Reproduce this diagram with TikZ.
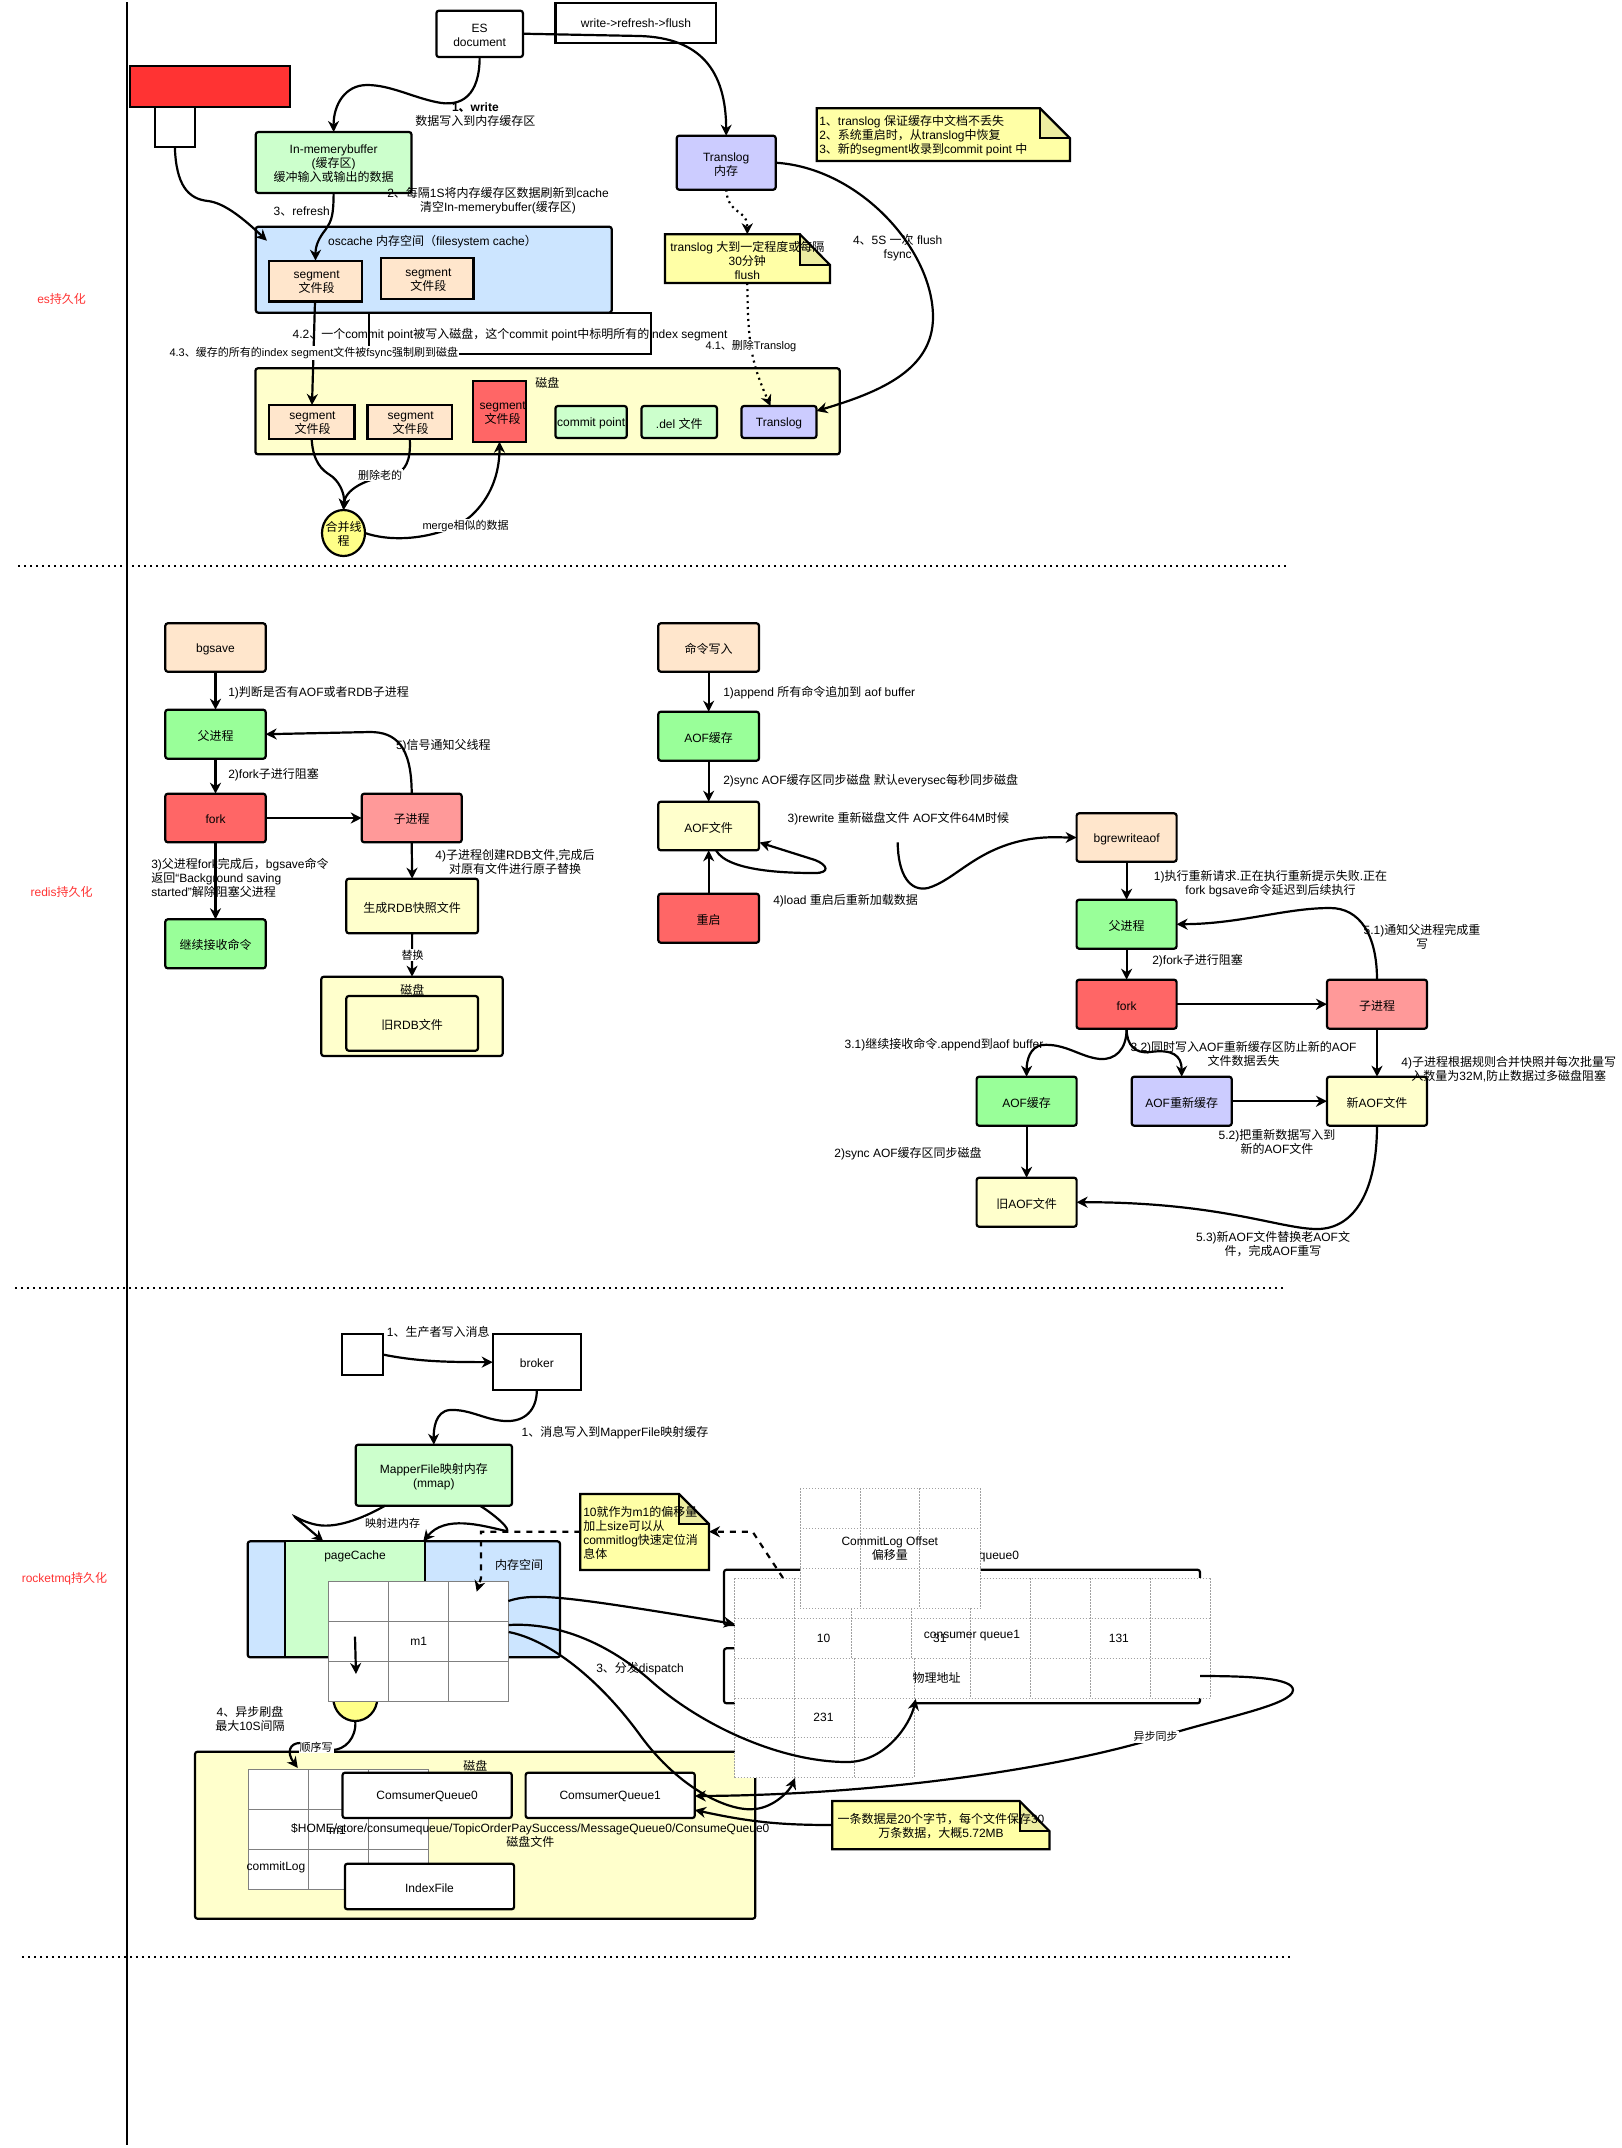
\documentclass[tikz,border=0pt]{standalone}
\usepackage{fontspec}
\usetikzlibrary{arrows.meta,shapes.geometric}
\setmainfont{Liberation Sans}
\newfontfamily\cjkfont{Noto Sans CJK SC}
\newXeTeXintercharclass\zhclass
\newcount\zhc
\zhc="3000 \loop\ifnum\zhc<"3040 \XeTeXcharclass\zhc=\zhclass \advance\zhc 1 \repeat
\zhc="4E00 \loop\ifnum\zhc<"A000 \XeTeXcharclass\zhc=\zhclass \advance\zhc 1 \repeat
\zhc="FF00 \loop\ifnum\zhc<"FFF0 \XeTeXcharclass\zhc=\zhclass \advance\zhc 1 \repeat
\XeTeXinterchartoks 0 \zhclass={\cjkfont}
\XeTeXinterchartoks 4095 \zhclass={\cjkfont}
\XeTeXinterchartoks \zhclass 0={\rmfamily}
\XeTeXinterchartoks \zhclass 4095={\rmfamily}
\XeTeXinterchartokenstate=1
\definecolor{cpeach}{HTML}{FFE6CC}
\definecolor{cgreen}{HTML}{99FF99}
\definecolor{clgreen}{HTML}{CCFFCC}
\definecolor{cred}{HTML}{FF6666}
\definecolor{cpink}{HTML}{FF9999}
\definecolor{cyellow}{HTML}{FFFFCC}
\definecolor{cblue}{HTML}{CCE5FF}
\definecolor{cviolet}{HTML}{CCCCFF}
\definecolor{cnote}{HTML}{FFFFA6}
\definecolor{cfold}{HTML}{EDEDA0}
\definecolor{cball}{HTML}{FFFF88}
\definecolor{cbright}{HTML}{FF3333}
\definecolor{cgrid}{HTML}{808080}
\definecolor{cdot}{HTML}{A0A0A0}
\tikzset{
  box/.style={draw=black,line width=2.2pt,rounded corners=2.5pt,inner sep=0pt,outer sep=0pt},
  sq/.style={box,rounded corners=0pt},
  lab/.style={inner sep=0pt,outer sep=0pt,align=center,font=\fontsize{12}{14}\selectfont},
  labl/.style={lab,align=left,anchor=west},
  edgelab/.style={inner sep=1pt,outer sep=0pt,fill=white,align=center,font=\fontsize{11}{13}\selectfont},
  conn/.style={line width=2.2pt,-{Stealth[length=11pt,width=11pt,inset=3.5pt]}},
  plain/.style={line width=2.2pt},
  dotconn/.style={conn,dash pattern=on 2pt off 4pt},
  dashconn/.style={conn,dash pattern=on 6pt off 6pt},
  sep/.style={line width=2pt,dash pattern=on 2pt off 4pt},
  gridln/.style={draw=cgrid,line width=1pt},
  dotln/.style={draw=cdot,line width=1pt,dash pattern=on 1.4pt off 1.6pt},
  ball/.style={draw,line width=2.2pt,ellipse,fill=cball,inner sep=0pt,outer sep=0pt},
}
\newcommand{\bx}[7]{%
  \pgfmathsetmacro\cxx{(#2+#4)/2}\pgfmathsetmacro\cyy{(#3+#5)/2}%
  \node[#6,minimum width={(#4-#2)*1pt},minimum height={(#5-#3)*1pt}] (#1) at (\cxx,\cyy) {};%
  \def\bxtext{#7}\ifx\bxtext\empty\else
  \pgfmathsetmacro\cyz{\cyy+1.5}\node[lab] (#1-t) at (\cxx,\cyz) {#7};\fi}
\newcommand{\notebox}[8]{% name x1 y1 x2 y2 foldx foldy
  \fill[cnote] (#2,#3) -- (#6,#3) -- (#4,#7) -- (#4,#5) -- (#2,#5) -- cycle;
  \fill[cfold] (#6,#3) -- (#4,#7) -- (#6,#7) -- cycle;
  \draw[line width=2.2pt,line join=miter] (#2,#3) -- (#6,#3) -- (#4,#7) -- (#4,#5) -- (#2,#5) -- cycle;
  \draw[line width=2.2pt] (#6,#3) -- (#6,#7) -- (#4,#7);
  \coordinate (#1-l) at (#2,#8);\coordinate (#1-r) at (#4,#8);}
\begin{document}
\begin{tikzpicture}[x=1pt,y=-1pt]
\useasboundingbox (0,0) rectangle (1622,2148);
% global lines
\coordinate (vt) at (126.5,2);\coordinate (vb) at (126.5,2145);
\draw[line width=2pt] (vt) -- (vb);
\coordinate (s1a) at (18,566);\coordinate (s1b) at (1287,566);
\coordinate (s2a) at (15,1288);\coordinate (s2b) at (1284,1288);
\coordinate (s3a) at (22,1957);\coordinate (s3b) at (1291,1957);
\draw[sep] (s1a)--(s1b); \draw[sep] (s2a)--(s2b); \draw[sep] (s3a)--(s3b);
\node[lab,text=cbright] (lbes) at (61.6,298.5) {es持久化};
\node[lab,text=cbright] (lbredis) at (61.6,891.5) {redis持久化};
\node[lab,text=cbright] (lbrocket) at (64.5,1579) {rocketmq持久化};

%%%%%% ES
\bx{redbar}{130}{66.3}{290}{106.7}{sq,fill=cbright}{}
\bx{whitebox}{154.7}{106.7}{195}{146.7}{sq,fill=white}{}
\bx{wrf}{555.4}{2.7}{715.7}{42.7}{sq}{}
\node[lab] (wrft) at (636,23.5) {write->refresh->flush};
\bx{es}{436.4}{10.7}{522.9}{57}{box,fill=white}{ES\\document}
\bx{mem}{255.8}{132}{411.5}{193}{box,fill=clgreen}{In-memerybuffer\\(缓存区)\\缓冲输入或输出的数据}
\bx{tlog}{676.7}{135.7}{775.7}{189.7}{box,fill=cviolet}{Translog\\内存}
\bx{oscache}{255.8}{226.7}{611.7}{312.7}{box,fill=cblue}{}
\node[lab] (ost) at (432.5,241.5) {oscache 内存空间（filesystem cache）};
\bx{cseg1}{268.8}{260.7}{361.8}{301.5}{sq,fill=cpeach}{}
\node[lab] (cseg1t) at (316.6,282) {segment\\文件段};
\bx{cseg2}{381.3}{258.3}{473.5}{299}{sq,fill=cpeach}{}
\node[lab] (cseg2t) at (428.4,280) {segment\\文件段};
\bx{rect42}{368.7}{313}{651}{354.3}{sq}{}
\bx{disk}{255.4}{368.3}{839.7}{454.3}{box,fill=cyellow}{}
\node[lab] (diskt) at (547.3,383) {磁盘};
\bx{dseg1}{268.8}{405}{354.5}{439}{sq,fill=cpeach}{}
\node[lab] (dseg1t) at (312.5,423) {segment\\文件段};
\bx{dseg2}{367.4}{405}{452.2}{439}{sq,fill=cpeach}{}
\node[lab] (dseg2t) at (410.7,423) {segment\\文件段};
\bx{rseg}{472.8}{381}{525.9}{441.7}{sq,fill=cred}{}
\node[lab] (rsegt) at (502.7,413) {segment\\文件段};
\bx{cpt}{555.4}{406}{626.8}{438}{box,fill=clgreen}{commit point}
\bx{del}{641.5}{406}{717}{438}{box,fill=clgreen}{.del 文件}
\bx{dtlog}{741.5}{406}{816.5}{438}{box,fill=cviolet}{Translog}
\node[ball,minimum width=43pt,minimum height=46pt] (merge) at (343.5,533) {};
\node[lab] (merget) at (343.5,534) {合并线\\程};
\notebox{n1}{816.7}{108.3}{1070}{161}{1040}{138.3}{135}
\node[labl] (n1t) at (819.3,136) {1、translog 保证缓存中文档不丢失\\2、系统重启时，从translog中恢复\\3、新的segment收录到commit point 中};
\notebox{n2}{665}{234.3}{830}{283}{800}{265}{260}
\node[lab] (n2t) at (747.3,260) {translog 大到一定程度或每隔\\30分钟\\flush};
% connectors
\coordinate (wdst) at (266.9,240.7);
\draw[conn] (whitebox.south) .. controls (176,185) and (188,199) .. (208,201) .. controls (225,203) and (245,220) .. (wdst);
\draw[conn] (es.south) .. controls (479.7,95) and (462,108) .. (436,102) .. controls (412,97) and (390,85) .. (367,85) .. controls (345,85) and (333.4,105) .. (mem.north);
\coordinate (esr) at (522.9,33.7);
\draw[conn] (esr) -- (640,36) .. controls (700,38) and (726,70) .. (tlog.north);
\coordinate (cseg1a) at (315.5,260.7);
\draw[conn] (mem.south) .. controls (333.4,215) and (332,220) .. (326,229) .. controls (319,238) and (315.5,245) .. (cseg1a);
\coordinate (n2top) at (747.3,234.3);\coordinate (n2bot) at (747.3,283);
\draw[dotconn] (tlog.south) .. controls (727,203) and (733,208) .. (740,213) .. controls (746,217) and (747.3,222) .. (n2top);
\coordinate (dtlogt) at (770.5,406);
\draw[dotconn] (n2bot) .. controls (748,340) and (750,360) .. (dtlogt);
\coordinate (dtlogr) at (816.5,411);
\draw[conn] (tlog.east) .. controls (860,168) and (933,250) .. (933,317) .. controls (933,370) and (880,392) .. (dtlogr);
\coordinate (cs1b) at (315,301.5);\coordinate (ds1t) at (312,405);
\draw[conn] (cs1b) -- (ds1t);
\draw[conn] (dseg1.south) .. controls (313,462) and (322,470) .. (330,475) .. controls (338,480) and (345,492) .. (merge.north);
\draw[conn] (dseg2.south) .. controls (411,462) and (405,470) .. (395,475) .. controls (365,478) and (345,490) .. (merge.north);
\coordinate (rsegb) at (499.5,441.7);
\draw[conn] (merge.east) .. controls (400,545) and (450,535) .. (472,515) .. controls (490,498) and (499.5,475) .. (rsegb);
\node[lab] (t1a) at (475.4,115) {\textbf{1、write}\\数据写入到内存缓存区};
\node[lab] (t2a) at (498,201) {2、每隔1S将内存缓存区数据刷新到cache\\清空In-memerybuffer(缓存区)};
\node[lab] (t3a) at (301.7,211) {3、refresh};
\node[lab] (t4a) at (897.7,248) {4、5S 一次 flush\\fsync};
\node[lab] (t42) at (510,335) {4.2、一个commit point被写入磁盘，这个commit point中标明所有的index segment};
\node[edgelab] (t41) at (751,346) {4.1、删除Translog};
\node[edgelab] (t43) at (313.8,353) {4.3、缓存的所有的index segment文件被fsync强制刷到磁盘};
\node[edgelab] (tdel) at (380,475) {删除老的};
\node[edgelab] (tmrg) at (465.6,525.7) {merge相似的数据};

%%%%%% RDB
\bx{bg}{165.3}{623.3}{265.7}{671.7}{box,fill=cpeach}{bgsave}
\bx{fa}{165.3}{709.7}{265.7}{758.7}{box,fill=cgreen}{父进程}
\bx{fo}{165.3}{793.7}{265.7}{842.3}{box,fill=cred}{fork}
\bx{go}{165.3}{919.3}{265.7}{968.3}{box,fill=cgreen}{继续接收命令}
\bx{ch}{361.7}{793.7}{461.7}{842.3}{box,fill=cpink}{子进程}
\bx{gen}{346.3}{878.7}{478}{933.3}{box,fill=cyellow}{生成RDB快照文件}
\bx{rdisk}{321.3}{976.7}{502.7}{1056}{box,fill=cyellow}{}
\node[lab] (rdiskt) at (412.3,990) {磁盘};
\bx{old}{346.3}{996}{478}{1050.7}{box,fill=cyellow}{旧RDB文件}
\draw[conn] (bg)--(fa); \draw[conn] (fa)--(fo); \draw[conn] (fo)--(go); \draw[conn] (fo)--(ch);
\draw[conn] (ch.north) .. controls (411.7,745) and (395,732) .. (370,732) -- (fa.east);
\draw[conn] (ch.south) -- (gen.north);
\draw[conn] (gen.south) -- (rdisk.north);
\node[labl] (r1) at (228.3,692.7) {1)判断是否有AOF或者RDB子进程};
\node[labl] (r2) at (228.3,775) {2)fork子进行阻塞};
\node[labl] (r3) at (151.3,878) {3)父进程fork完成后，bgsave命令\\返回“Background saving\\started”解除阻塞父进程};
\node[labl] (r5) at (396,746) {5)信号通知父线程};
\node[lab] (r4) at (515,862) {4)子进程创建RDB文件,完成后\\对原有文件进行原子替换};
\node[edgelab] (rr) at (412.7,955) {替换};

%%%%%% AOF left
\bx{cmd}{658.3}{623.3}{759}{671.7}{box,fill=cpeach}{命令写入}
\bx{ab}{658.3}{711.7}{759}{760.7}{box,fill=cgreen}{AOF缓存}
\bx{af}{658.3}{801.7}{759}{850.3}{box,fill=cyellow}{AOF文件}
\bx{rs}{658.3}{893.7}{759}{942.7}{box,fill=cred}{重启}
\draw[conn] (cmd)--(ab); \draw[conn] (ab)--(af); \draw[conn] (rs)--(af);
\coordinate (afb) at (716,850.3);\coordinate (afr) at (759.5,842.5);
\draw[conn] (afb) .. controls (728,872) and (790,873) .. (815,873) .. controls (830,873) and (828,865) .. (815,860) -- (afr);
\coordinate (rwstart) at (897.7,842.3);
\node[labl] (a1) at (723.3,692.7) {1)append 所有命令追加到 aof buffer};
\node[labl] (a2) at (723.3,781) {2)sync AOF缓存区同步磁盘 默认everysec每秒同步磁盘};
\node[labl] (a3) at (787.7,819) {3)rewrite 重新磁盘文件 AOF文件64M时候};
\node[labl] (a4) at (773.3,901) {4)load 重启后重新加载数据};

%%%%%% AOF right
\bx{bw}{1076.6}{813.3}{1176.6}{861.7}{box,fill=cpeach}{bgrewriteaof}
\bx{fa2}{1076.6}{899.7}{1176.6}{948.7}{box,fill=cgreen}{父进程}
\bx{fo2}{1076.6}{979.7}{1176.6}{1028.7}{box,fill=cred}{fork}
\bx{ch2}{1327}{979.7}{1427}{1028.7}{box,fill=cpink}{子进程}
\bx{ab2}{976.6}{1076.7}{1076.6}{1125.7}{box,fill=cgreen}{AOF缓存}
\bx{rb2}{1131.7}{1076.7}{1231.7}{1125.7}{box,fill=cviolet}{AOF重新缓存}
\bx{nf2}{1327}{1076.7}{1427}{1125.7}{box,fill=cyellow}{新AOF文件}
\bx{of2}{976.6}{1177.7}{1076.6}{1226.7}{box,fill=cyellow}{旧AOF文件}
\draw[conn] (rwstart) .. controls (898,875) and (910,892) .. (928,888) .. controls (955,880) and (975,850) .. (1025,840) .. controls (1045,836) and (1060,837.5) .. (bw.west);
\draw[conn] (bw)--(fa2); \draw[conn] (fa2)--(fo2); \draw[conn] (fo2)--(ch2);
\draw[conn] (ch2)--(nf2); \draw[conn] (rb2)--(nf2); \draw[conn] (ab2)--(of2);
\draw[conn] (ch2.north) .. controls (1377,935) and (1360,908) .. (1330,908) .. controls (1285,908) and (1240,924) .. (fa2.east);
\draw[conn] (fo2.south) .. controls (1126.6,1050) and (1115,1060) .. (1100,1059) .. controls (1080,1057) and (1065,1043) .. (1042,1045) .. controls (1030,1047) and (1026.6,1060) .. (ab2.north);
\draw[conn] (fo2.south) .. controls (1126.6,1045) and (1135,1054) .. (1150,1052) .. controls (1172,1049) and (1181.7,1055) .. (rb2.north);
\draw[conn] (nf2.south) .. controls (1377,1190) and (1355,1229) .. (1317,1229) .. controls (1280,1229) and (1220,1202) .. (of2.east);
\node[lab] (b1) at (1270.5,884) {1)执行重新请求.正在执行重新提示失败.正在\\fork bgsave命令延迟到后续执行};
\node[lab] (b2) at (1197.6,961) {2)fork子进行阻塞};
\node[lab] (b3) at (1422,937) {5.1)通知父进程完成重\\写};
\node[lab] (b4) at (944,1045) {3.1)继续接收命令.append到aof buffer};
\node[lab] (b5) at (1243.5,1054) {3.2)同时写入AOF重新缓存区防止新的AOF\\文件数据丢失};
\node[lab] (b6) at (1508.8,1069.5) {4)子进程根据规则合并快照并每次批量写\\入数量为32M,防止数据过多磁盘阻塞};
\node[lab] (b7) at (1277,1142) {5.2)把重新数据写入到\\新的AOF文件};
\node[lab] (b8) at (908,1154) {2)sync AOF缓存区同步磁盘};
\node[lab] (b9) at (1273,1244) {5.3)新AOF文件替换老AOF文\\件，完成AOF重写};

%%%%%% RocketMQ
\bx{prod}{342.3}{1334.3}{382.7}{1374.7}{sq,fill=white}{}
\bx{broker}{492.7}{1334.3}{581}{1390}{sq,fill=white}{broker}
\bx{mmap}{355.7}{1444.7}{512}{1505.7}{box,fill=clgreen}{MapperFile映射内存\\(mmap)}
\draw[conn] (prod.east) .. controls (420,1362) and (450,1362) .. (broker.west);
\draw[conn] (broker.south) .. controls (536.8,1410) and (525,1422) .. (505,1421) .. controls (485,1420) and (470,1409) .. (450,1410) .. controls (435,1411) and (433.5,1430) .. (mmap.north);
\node[lab] (q1) at (438.3,1332) {1、生产者写入消息};
\node[lab] (q2) at (615,1433) {1、消息写入到MapperFile映射缓存};
% disk (bottom)
\bx{mdisk}{195}{1751.7}{755.3}{1918.7}{box,fill=cyellow}{}
\node[lab] (mdiskt) at (475.4,1766) {磁盘};
\foreach \xa/\xb in {248.4/308.1,308.1/368.2,368.2/428.3}{\foreach \ya/\yb in {1769/1809,1809/1849,1849/1889}{\filldraw[fill=white,gridln] (\xa,\ya) rectangle (\xb,\yb);}}
\node[lab] (cl) at (276,1867) {commitLog};
\node[lab] (clm) at (337.4,1830) {m1};
\bx{cq0}{342.5}{1772.7}{511.8}{1818}{box,fill=white}{ComsumerQueue0}
\bx{cq1}{525.6}{1772.7}{694.8}{1818}{box,fill=white}{ComsumerQueue1}
\bx{idx}{344.9}{1863.7}{514.1}{1909.3}{box,fill=white}{IndexFile}
\node[lab] (home) at (530.3,1836) {\$HOME/store/consumequeue/TopicOrderPaySuccess/MessageQueue0/ConsumeQueue0\\磁盘文件};
% page cache
\node[ball,minimum width=44pt,minimum height=46pt] (flush) at (355.3,1698) {};
\bx{pc}{247.7}{1541.3}{560}{1657.3}{box,fill=cblue}{}
\bx{pcg}{285.3}{1541.3}{425.3}{1657.3}{sq,fill=clgreen}{}
\node[lab] (pct) at (355,1556) {pageCache};
\node[lab] (pcm) at (519,1565) {内存空间};
\foreach \xa/\xb in {328.7/388.7,388.7/448.7,448.7/508.7}{\foreach \ya/\yb in {1581.3/1621.3,1621.3/1661.3,1661.3/1701.3}{\filldraw[fill=white,gridln] (\xa,\ya) rectangle (\xb,\yb);}}
\node[lab] (m1) at (418.7,1641) {m1};
\coordinate (dn1) at (355,1636.7);\coordinate (dn2) at (356,1674);
\draw[conn] (dn1) -- (dn2);
\coordinate (mb1) at (385,1505.7);\coordinate (pc1) at (323.3,1541.3);
\draw[conn] (mb1) .. controls (360,1520) and (335,1528) .. (318,1525) .. controls (300,1522) and (290,1512) .. (297,1519) -- (pc1);
\coordinate (mb2) at (480,1505.7);\coordinate (pc2) at (423.3,1541.3);
\draw[conn] (mb2) .. controls (495,1515) and (512,1530) .. (506,1531) .. controls (480,1525) and (445,1515) .. (pc2);
\node[edgelab] (mapt) at (392.7,1523) {映射进内存};
\node[lab,anchor=center] (dump) at (250,1719) {4、异步刷盘\\最大10S间隔};
% queue boxes
\bx{qb0}{724}{1569.7}{1200}{1625}{box,fill=white}{}
\node[lab] (qt0) at (971,1557) {consumer queue0};
\bx{qb1}{724}{1648.3}{1200}{1703.3}{box,fill=white}{}
% grids
\fill[white] (734.7,1578.3) rectangle (1210.2,1698.3);
\fill[white] (734.7,1698.3) rectangle (914.3,1777.7);
\foreach \yy in {1578.3,1618.3,1658.3,1698.3}{\draw[dotln] (734.7,\yy) -- (1210.2,\yy);}
\foreach \xx in {734.7,794.9,970.9,1030.6,1090.3,1150.5,1210.2}{\draw[dotln] (\xx,1578.3) -- (\xx,1698.3);}
\foreach \xx in {851,911.2}{\draw[dotln] (\xx,1578.3) -- (\xx,1658.3);}
\foreach \xx in {854.6,914.3}{\draw[dotln] (\xx,1658.3) -- (\xx,1777.7);}
\foreach \xx in {734.7,794.9}{\draw[dotln] (\xx,1698.3) -- (\xx,1777.7);}
\foreach \yy in {1737.7,1777.7}{\draw[dotln] (734.7,\yy) -- (914.3,\yy);}
% top grid
\fill[white] (800,1488.3) rectangle (980.1,1608.3);
\foreach \yy in {1488.3,1528.3,1568.3,1608.3}{\draw[dotln] (800,\yy) -- (980.1,\yy);}
\foreach \xx in {800,860.2,919.9,980.1}{\draw[dotln] (\xx,1488.3) -- (\xx,1608.3);}
\node[lab] (offs) at (889.8,1549) {CommitLog Offset\\偏移量};
\node[lab] (v10) at (823.5,1638.7) {10};
\node[lab] (v31) at (939.8,1638.7) {31};
\node[lab] (v131) at (1118.9,1638.7) {131};
\node[lab] (vcq) at (972,1636) {consumer queue1};
\node[lab] (vaddr) at (936.7,1678) {物理地址};
\node[lab] (v231) at (823.5,1717.7) {231};
% notes
\notebox{n3}{580.3}{1494}{709}{1570}{679}{1524}{1531.7}
\node[labl] (n3t) at (583.3,1533) {10就作为m1的偏移量\\加上size可以从\\commitlog快速定位消\\息体};
\notebox{n4}{832.2}{1801}{1049.4}{1849.3}{1019.6}{1831}{1825}
\node[lab] (n4t) at (941,1826) {一条数据是20个字节，每个文件保存30\\万条数据，大概5.72MB};
% connectors
\coordinate (dsh1) at (476.7,1591.7);\coordinate (dshc) at (481,1531.7);
\draw[dashconn] (n3-l) -- (dshc) -- (481,1578) -- (dsh1);
\coordinate (dsh2) at (783,1578);\coordinate (dshm) at (752.6,1531.7);
\draw[dashconn] (dsh2) -- (dshm) -- (n3-r);
\coordinate (g1) at (508.3,1601);\coordinate (g2) at (508.7,1625);\coordinate (g3) at (508.7,1632);
\coordinate (q0l) at (734.7,1624);\coordinate (q1b) at (915.8,1699);\coordinate (gb) at (795,1778);
\draw[conn] (g1) .. controls (535,1592) and (570,1597) .. (q0l);
\draw[conn] (g2) .. controls (560,1622) and (610,1645) .. (650,1680) .. controls (700,1725) and (780,1762) .. (847,1762) .. controls (885,1762) and (910,1725) .. (q1b);
\draw[conn] (g3) .. controls (550,1640) and (600,1680) .. (640,1735) .. controls (680,1790) and (730,1812) .. (755,1809) .. controls (775,1807) and (790,1790) .. (gb);
\coordinate (sy0) at (1200,1676);
\coordinate (cq1m) at (694.8,1796);\coordinate (cq1n) at (694.8,1810);
\draw[conn] (sy0) .. controls (1250,1676) and (1293,1678) .. (1293,1690) .. controls (1293,1705) and (1220,1718) .. (1160,1737) .. controls (1060,1768) and (880,1795) .. (cq1m);
\draw[conn] (n4-l) .. controls (780,1825) and (750,1822) .. (cq1n);
\coordinate (seqr) at (332,1750);
\draw[plain] (flush.south) .. controls (356.5,1738) and (345,1750) .. (seqr);
\node[edgelab] (seq) at (316,1747) {顺序写};
\coordinate (sq1) at (300,1743);\coordinate (sq2) at (297.8,1768);
\draw[conn] (sq1) .. controls (290,1743) and (286,1752) .. (sq2);
\node[edgelab] (async) at (1155.6,1736.7) {异步同步};
\node[lab] (disp) at (640,1669) {3、分发dispatch};
\end{tikzpicture}
\end{document}
